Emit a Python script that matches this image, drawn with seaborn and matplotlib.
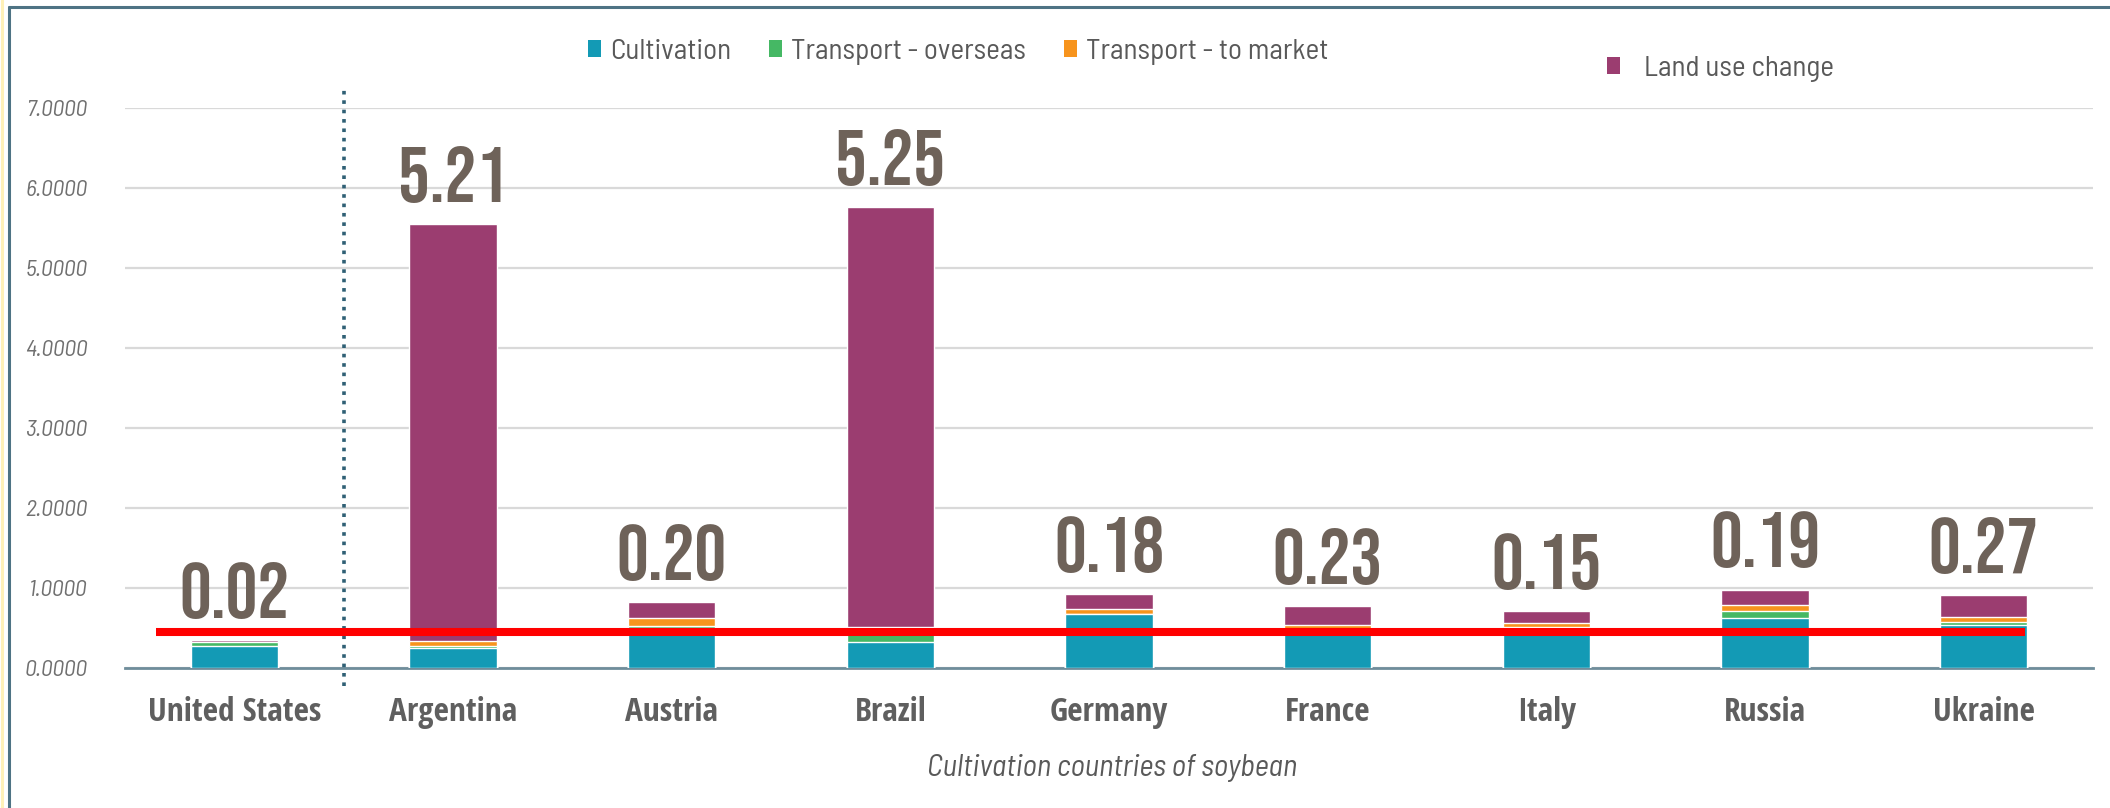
import matplotlib
matplotlib.use("Agg")
import matplotlib.pyplot as plt
from matplotlib import font_manager
from matplotlib.patches import Patch
from matplotlib.lines import Line2D
import numpy as np
import pandas as pd
import seaborn as sns

# Values
countries = ["United States", "Argentina", "Austria", "Brazil", "Germany",
             "France", "Italy", "Russia", "Ukraine"]
cultivation = [0.28, 0.25, 0.50, 0.33, 0.67, 0.48, 0.49, 0.62, 0.54]
transport_overseas = [0.04, 0.03, 0.03, 0.10, 0.01, 0.01, 0.02, 0.09, 0.04]
transport_market = [0.01, 0.06, 0.09, 0.08, 0.06, 0.05, 0.05, 0.08, 0.06]
land_use_change = [0.02, 5.21, 0.20, 5.25, 0.18, 0.23, 0.15, 0.19, 0.27]
threshold = 0.45

series_names = ["Cultivation", "Transport - overseas", "Transport - to market", "Land use change"]
colors = ["#139ab5", "#45b864", "#f7941d", "#9b3d70"]

sns.set_theme(style="white")
installed = {f.name for f in font_manager.fontManager.ttflist}


def pick(*names):
    for n in names:
        if n in installed:
            return n
    return "DejaVu Sans"


big_font = pick("Bebas Neue", "Oswald", "Barlow Condensed")
bold_font = pick("Open Sans Condensed", "Barlow Semi Condensed", "Asap Condensed")
light_font = pick("Barlow Semi Condensed", "Asap Condensed", "Archivo Narrow")
plt.rcParams["font.family"] = [light_font, "DejaVu Sans"]

df = pd.DataFrame({
    "country": countries,
    "Cultivation": cultivation,
    "Transport - overseas": transport_overseas,
    "Transport - to market": transport_market,
    "Land use change": land_use_change,
})
# cumulative tops for stacking
cum = df[series_names].cumsum(axis=1)
cum["country"] = df["country"]

fig = plt.figure(figsize=(21.1, 8.08), dpi=100)
ax = fig.add_axes([125 / 2110, 1 - 668 / 808, 1968 / 2110, 560 / 808])

# draw tallest layer first, then overdraw lower layers
for name, col in zip(series_names[::-1], colors[::-1]):
    sns.barplot(data=cum, x="country", y=name, order=countries, color=col,
                width=0.4, saturation=1, ax=ax, zorder=3)

ax.set_xlim(-0.5, len(countries) - 0.5)
ax.set_ylim(0, 7)
ax.set_yticks(np.arange(0, 8, 1))
ax.set_yticklabels([f"{v:.4f}" for v in np.arange(0, 8, 1)], fontstyle="italic",
                   fontweight="normal", fontsize=17, color="#707070")
ax.tick_params(axis="y", length=0, pad=27)
ax.tick_params(axis="x", length=0, pad=20)
for lbl in ax.get_xticklabels():
    lbl.set_fontfamily([bold_font, "DejaVu Sans"])
    lbl.set_fontweight("bold")
    lbl.set_fontsize(24)
    lbl.set_color("#5f5f5f")

ax.yaxis.grid(True, color="#d9d9d9", linewidth=1.6, zorder=0)
ax.set_axisbelow(True)
for s in ["top", "right", "left"]:
    ax.spines[s].set_visible(False)
ax.spines["bottom"].set_color("#6f8d9b")
ax.spines["bottom"].set_linewidth(2)
ax.set_ylabel("")
ax.set_xlabel("")

# separator between United States and the rest
ax.plot([0.5, 0.5], [-0.23, 7.22], linestyle=(0, (1, 1.6)), linewidth=2.6,
        color="#2f6075", clip_on=False, zorder=4)

# red threshold line
ax.plot([-0.36, 8.19], [threshold, threshold], color="#ff0000", linewidth=5.8,
        solid_capstyle="butt", zorder=5)

# land use change labels above the bars
big_size = 57 if big_font == "Bebas Neue" else 48
totals = cum["Land use change"].values
for i, (t, v) in enumerate(zip(totals, land_use_change)):
    ax.annotate(f"{v:.2f}", (i, t), xytext=(0, 16), textcoords="offset points",
                ha="center", va="baseline", fontsize=big_size, fontweight="bold",
                family=[big_font, "DejaVu Sans"], color="#6e6259", zorder=6)

fig.text(1112 / 2110, 1 - 768 / 808, "Cultivation countries of soybean",
         ha="center", va="center", fontsize=22, fontstyle="italic",
         fontweight="normal", color="#595959")

# legends
h1 = [Patch(facecolor=c, edgecolor="none") for c in colors[:3]]
fig.legend(h1, series_names[:3], loc="center left",
           bbox_to_anchor=(562 / 2110, 1 - 52 / 808), ncol=3, frameon=False,
           prop={"family": [light_font], "size": 21}, handlelength=0.45,
           handleheight=0.5, handletextpad=0.3, columnspacing=1.3,
           labelcolor="#595959")
h2 = [Patch(facecolor=colors[3], edgecolor="none")]
fig.legend(h2, series_names[3:], loc="center left",
           bbox_to_anchor=(1581 / 2110, 1 - 69 / 808), frameon=False,
           prop={"family": [light_font], "size": 21}, handlelength=0.45,
           handleheight=0.5, handletextpad=0.8, labelcolor="#595959")

# outer frame lines
fig.add_artist(Line2D([9 / 2110, 1], [1 - 7 / 808, 1 - 7 / 808], color="#4e7384",
                      linewidth=2.2, transform=fig.transFigure))
fig.add_artist(Line2D([9 / 2110, 9 / 2110], [0, 1 - 7 / 808], color="#4e7384",
                      linewidth=2.2, transform=fig.transFigure))
fig.add_artist(Line2D([1.5 / 2110, 1.5 / 2110], [0, 1], color="#fff1b8",
                      linewidth=2.2, transform=fig.transFigure))

fig.savefig("out.png", dpi=100)
